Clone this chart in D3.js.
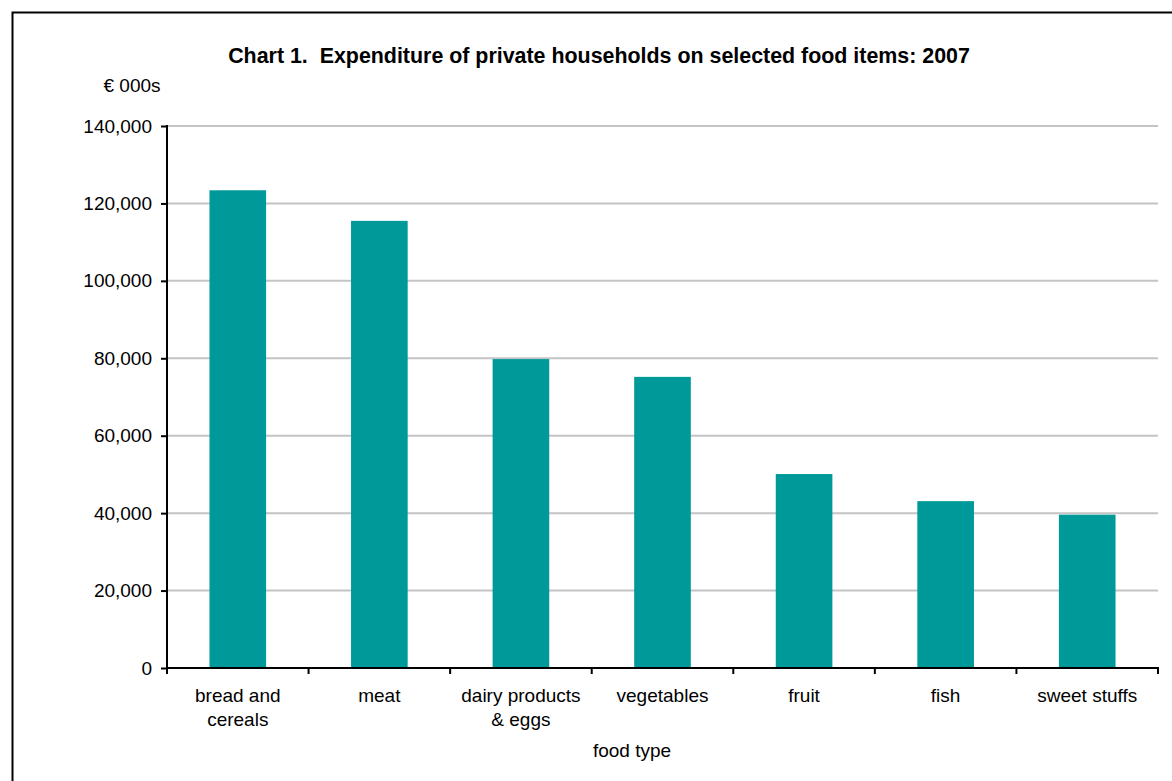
<!DOCTYPE html>
<html>
<head>
<meta charset="utf-8">
<script src="https://cdn.jsdelivr.net/npm/d3@7"></script>
<style>
  html, body { margin: 0; padding: 0; background: #fff; overflow: hidden; }
  svg { display: block; font-family: "Liberation Sans", Arial, sans-serif; }
  text { white-space: pre; }
</style>
</head>
<body>
<svg id="chart" width="1172" height="781"></svg>
<script>
const categories = [["bread and", "cereals"], ["meat"], ["dairy products", "& eggs"], ["vegetables"], ["fruit"], ["fish"], ["sweet stuffs"]];
const values = [123400, 115500, 79800, 75200, 50100, 43100, 39600];
const yTicks = [0, 20000, 40000, 60000, 80000, 100000, 120000, 140000];
const titleText = "Chart 1.  Expenditure of private households on selected food items: 2007";
const yUnit = "€ 000s";
const xTitle = "food type";

const svg = d3.select("#chart");
const plot = { left: 167, right: 1158, top: 126, bottom: 668 };
const FS = 19;

// outer border (extends beyond the viewport on right and bottom)
svg.append("rect")
  .attr("x", 12.5).attr("y", 12.5)
  .attr("width", 1200).attr("height", 800)
  .attr("fill", "none").attr("stroke", "#000").attr("stroke-width", 2);

const keys = categories.map((c, i) => i);
const x = d3.scaleBand().domain(keys).range([plot.left, plot.right]).paddingInner(0.6).paddingOuter(0.3);
const xb = d3.scaleBand().domain(keys).range([plot.left, plot.right]);
const y = d3.scaleLinear().domain([0, 140000]).range([plot.bottom, plot.top]);

// gridlines
svg.append("g").selectAll("line").data(yTicks.filter(t => t > 0)).join("line")
  .attr("x1", plot.left).attr("x2", plot.right)
  .attr("y1", d => y(d)).attr("y2", d => y(d))
  .attr("stroke", "#c4c4c4").attr("stroke-width", 2);

// bars
svg.append("g").selectAll("rect").data(values).join("rect")
  .attr("x", (d, i) => x(i))
  .attr("width", x.bandwidth())
  .attr("y", d => y(d))
  .attr("height", d => y(0) - y(d))
  .attr("fill", "#009999");

// y axis
const fmt = d3.format(",");
const yAxis = d3.axisLeft(y).tickValues(yTicks).tickFormat(fmt).tickSize(6).tickPadding(9);
const gy = svg.append("g").attr("transform", `translate(${plot.left},0)`).call(yAxis);
gy.select(".domain").attr("stroke", "#000").attr("stroke-width", 2).attr("d", `M0,${plot.top - 1}V${plot.bottom + 1}`);
gy.selectAll(".tick line").attr("stroke", "#000").attr("stroke-width", 2);
gy.selectAll(".tick text").attr("font-size", FS).attr("fill", "#000").attr("font-family", "Liberation Sans, Arial, sans-serif");

// x axis: ticks at band boundaries
const boundaries = keys.map(k => xb(k)).concat([plot.right]);
const gx = svg.append("g");
gx.append("line").attr("x1", plot.left - 1).attr("x2", plot.right + 1)
  .attr("y1", plot.bottom).attr("y2", plot.bottom).attr("stroke", "#000").attr("stroke-width", 2);
gx.selectAll("line.tk").data(boundaries).join("line").attr("class", "tk")
  .attr("x1", d => d).attr("x2", d => d)
  .attr("y1", plot.bottom).attr("y2", plot.bottom + 6)
  .attr("stroke", "#000").attr("stroke-width", 2);

// category labels
const lab = svg.append("g").selectAll("text").data(categories).join("text")
  .attr("text-anchor", "middle").attr("font-size", FS).attr("fill", "#000")
  .attr("x", (d, i) => xb(i) + xb.bandwidth() / 2)
  .attr("y", 702);
lab.selectAll("tspan").data(d => d).join("tspan")
  .attr("x", function () { return d3.select(this.parentNode).attr("x"); })
  .attr("dy", (d, j) => j === 0 ? 0 : 24)
  .text(d => d);

// title
svg.append("text").attr("x", 599).attr("y", 63).attr("text-anchor", "middle")
  .attr("font-size", 21.4).attr("font-weight", "bold").attr("fill", "#000").text(titleText);

// unit label
svg.append("text").attr("x", 132).attr("y", 92).attr("text-anchor", "middle")
  .attr("font-size", FS).attr("fill", "#000").text(yUnit);

// x title
svg.append("text").attr("x", 632).attr("y", 757).attr("text-anchor", "middle")
  .attr("font-size", FS).attr("fill", "#000").text(xTitle);
</script>
</body>
</html>
